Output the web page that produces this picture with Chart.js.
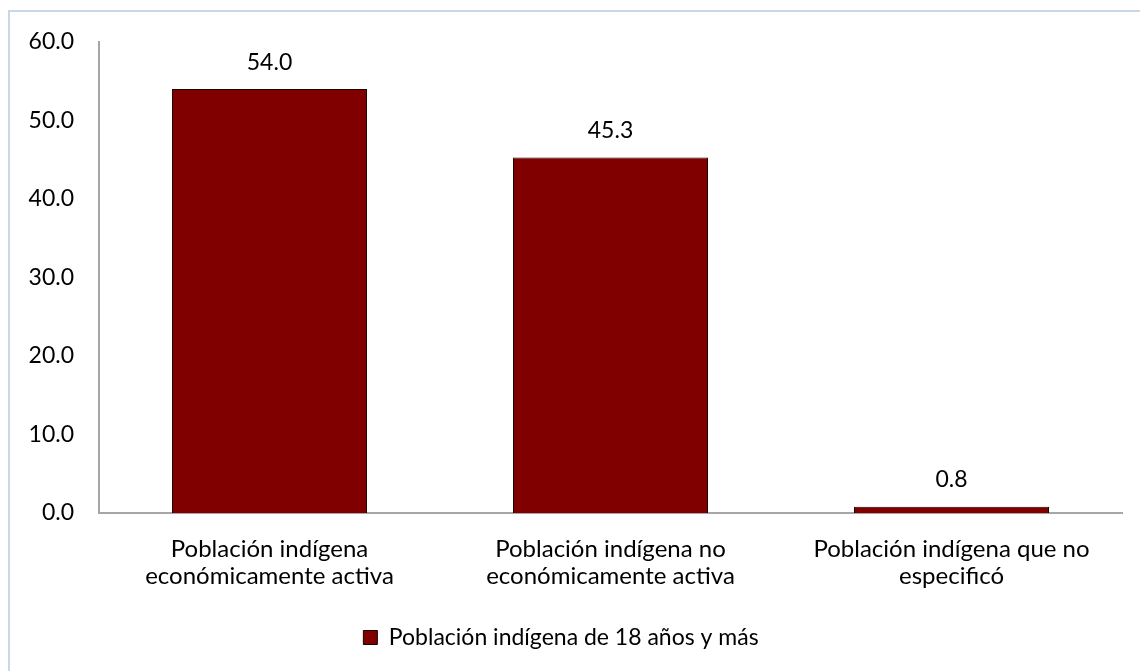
<!DOCTYPE html>
<html>
<head>
<meta charset="utf-8">
<script src="https://cdn.jsdelivr.net/npm/chart.js@4.4.0/dist/chart.umd.min.js"></script>
<style>
  html, body { margin: 0; padding: 0; background: #ffffff; overflow: hidden; }
  #frame { position: absolute; left: 8px; top: 10px; width: 1200px; height: 720px; border: 2px solid #c9d7ea; box-sizing: border-box; }
  #wrap { position: absolute; left: 0; top: 0; width: 1140px; height: 671px; }
</style>
</head>
<body>
<div id="frame"></div>
<div id="wrap"><canvas id="c" width="1140" height="671"></canvas></div>
<script>
const categories = [
  ["Población indígena", "económicamente activa"],
  ["Población indígena no", "económicamente activa"],
  ["Población indígena que no", "especificó"]
];
const seriesName = "Población indígena de 18 años y más";
const values = [54.0, 45.3, 0.8];
const yTicks = [0, 10, 20, 30, 40, 50, 60];

const FONT = "Lato, 'Open Sans', sans-serif";
const FS = 23;
const FSX = 24;

const valueLabels = {
  id: 'valueLabels',
  afterDatasetsDraw(chart) {
    const ctx = chart.ctx;
    ctx.save();
    ctx.font = FS + "px " + FONT;
    ctx.fillStyle = "#000";
    ctx.textAlign = "center";
    ctx.textBaseline = "middle";
    chart.getDatasetMeta(0).data.forEach((bar, i) => {
      ctx.fillText(values[i].toFixed(1), bar.x, bar.y - 27);
    });
    ctx.restore();
  }
};

new Chart(document.getElementById('c'), {
  type: 'bar',
  data: {
    labels: categories,
    datasets: [{
      label: seriesName,
      data: values,
      backgroundColor: "#800000",
      borderColor: "#1a0000",
      borderWidth: 1,
      barPercentage: 0.572,
      categoryPercentage: 1.0
    }]
  },
  options: {
    responsive: false,
    animation: false,
    devicePixelRatio: 1,
    layout: { padding: { top: 42, right: 18, bottom: 12, left: 0 } },
    plugins: {
      tooltip: { enabled: false },
      legend: {
        position: 'bottom',
        labels: {
          font: { family: FONT, size: FS },
          color: "#000",
          boxWidth: 14,
          boxHeight: 14,
          padding: 10
        }
      }
    },
    scales: {
      x: {
        grid: { display: false, drawTicks: false },
        border: { display: true, color: "#a6a6a6", width: 2 },
        ticks: {
          font: { family: FONT, size: FSX, lineHeight: 1.12 },
          color: "#000",
          padding: 23,
          maxRotation: 0,
          autoSkip: false
        },
        afterFit(scale) { scale.height = 103; }
      },
      y: {
        min: 0, max: 60,
        afterBuildTicks(scale) { scale.ticks = yTicks.map(v => ({ value: v })); },
        grid: { display: false, drawTicks: false },
        border: { display: true, color: "#a6a6a6", width: 2 },
        ticks: {
          font: { family: FONT, size: FS },
          color: "#000",
          padding: 25,
          callback: (v) => Number(v).toFixed(1)
        },
        afterFit(scale) { scale.width = 99; }
      }
    }
  },
  plugins: [valueLabels]
});
</script>
</body>
</html>
